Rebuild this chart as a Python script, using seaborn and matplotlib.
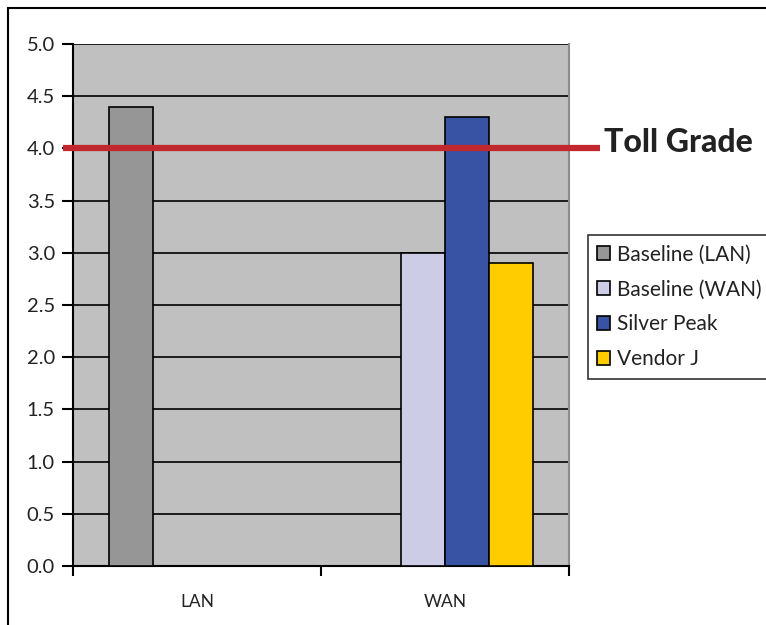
import matplotlib
matplotlib.use("Agg")
import matplotlib.pyplot as plt
import seaborn as sns
import pandas as pd
from matplotlib.patches import Patch, Rectangle

categories = ["LAN", "WAN"]
series = ["Baseline (LAN)", "Baseline (WAN)", "Silver Peak", "Vendor J"]
bar_category = ["LAN", "WAN", "WAN", "WAN"]
bar_series = ["Baseline (LAN)", "Baseline (WAN)", "Silver Peak", "Vendor J"]
bar_values = [4.4, 3.0, 4.3, 2.9]
toll_grade = 4.0
yticks = [0.0, 0.5, 1.0, 1.5, 2.0, 2.5, 3.0, 3.5, 4.0, 4.5, 5.0]
colors = ["#969696", "#CCCCE6", "#3953A4", "#FFCC00"]

df = pd.DataFrame({"cat": bar_category, "series": bar_series, "val": bar_values})

sns.set_style("white")
plt.rcParams["font.family"] = ["Lato", "DejaVu Sans"]

fig = plt.figure(figsize=(7.66, 6.25), dpi=100)
ax = fig.add_axes([73/766, 1-566/625, 496/766, 522/625])
ax.set_facecolor("#C0C0C0")

sns.barplot(data=df, x="cat", y="val", hue="series", order=categories,
            hue_order=series, palette=colors, width=0.71, dodge=True,
            edgecolor="black", linewidth=1.2, saturation=1, ax=ax, legend=False,
            zorder=3)

ax.set_ylim(0, 5)
ax.set_xlim(-0.5, 1.5)
ax.set_yticks(yticks)
ax.set_yticklabels([f"{v:.1f}" for v in yticks], fontsize=14.5, color="#222222")
ax.yaxis.grid(True, color="black", linewidth=1.2, zorder=1)
ax.set_axisbelow(True)
ax.set_xticks([-0.5, 0.5, 1.5])
ax.set_xticklabels([])
ax.set_xticks([0, 1], minor=True)
ax.set_xticklabels(categories, minor=True, fontsize=12.5, color="#222222")
ax.tick_params(axis="x", which="minor", length=0, pad=20)
ax.tick_params(axis="x", which="major", length=7, width=1.5, color="black", direction="out", bottom=True)
ax.tick_params(axis="y", length=8, width=1.5, color="black", direction="out", left=True, pad=5)
ax.set_xlabel("")
ax.set_ylabel("")

for s in ["left", "bottom"]:
    ax.spines[s].set_color("black")
    ax.spines[s].set_linewidth(1.5)
ax.spines["top"].set_visible(False)
ax.spines["right"].set_color("#8C8C8C")
ax.spines["right"].set_linewidth(1.5)

ax.axhline(toll_grade, xmin=-10/496, xmax=527/496, color="#C0282D",
           linewidth=4.5, clip_on=False, zorder=5, solid_capstyle="butt")
fig.text(604/766, 1-143/625, "Toll Grade", fontsize=23, fontweight="black",
         color="#222222", va="center", ha="left")

handles = [Patch(facecolor=c, edgecolor="black", linewidth=1.2) for c in colors]
leg = fig.legend(handles, series, loc="upper left",
                 bbox_to_anchor=(588/766, 1-235/625), fontsize=15,
                 frameon=True, fancybox=False, edgecolor="black",
                 handlelength=0.6, handleheight=0.6, handletextpad=0.35,
                 labelspacing=0.72, borderpad=0.45, borderaxespad=0)
leg.get_frame().set_linewidth(1.2)
for t in leg.get_texts():
    t.set_color("#222222")

fig.patches.append(Rectangle((8/766, -0.1), 2, 1.1 - 8/625, transform=fig.transFigure,
                             fill=False, edgecolor="black", linewidth=1.5, figure=fig))

fig.savefig("out.png", dpi=100)
